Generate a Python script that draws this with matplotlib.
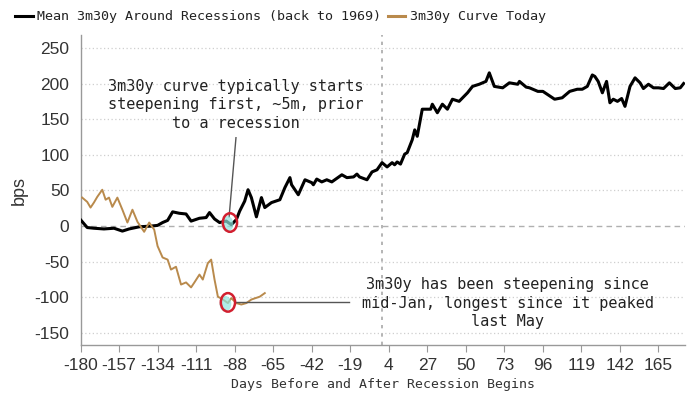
import matplotlib
matplotlib.use("Agg")
import matplotlib.pyplot as plt
from matplotlib.lines import Line2D
from matplotlib.patches import Ellipse
from matplotlib.ticker import FixedLocator, FuncFormatter

# Mean 3m30y around recessions (days, bps)
mean_days = [-180, -176, -172, -166, -160, -155, -151, -145, -138, -134, -131, -128,
             -125, -121, -117, -114, -109, -105, -103, -100, -97, -93, -90, -87,
             -85, -82, -80, -78, -75, -72, -70, -66, -61, -58, -55, -54, -50,
             -46, -42, -41, -39, -36, -33, -30, -24, -21, -17, -15, -13.5, -9,
             -6, -3, 0, 3, 6, 7.5, 9, 11, 13.5, 15, 18, 19.5, 21, 22.5, 24,
             29, 30, 33, 36, 39, 42, 46, 51, 54, 58, 62, 64, 67, 72, 76, 81,
             82, 86, 88, 93, 96, 103, 107.5, 112, 116.5, 119.5, 122.5, 125.5,
             127, 129, 131.5, 134, 136, 138, 140.5, 143, 145, 148, 151, 154,
             156, 159, 162, 165, 168, 171.5, 175, 178, 180]
mean_bps = [9, -2, -3, -4, -3, -7, -4, -1, 0, 1, 5, 8,
            20, 18, 17, 7, 11, 12, 19, 10, 5, 7, 2, 9,
            21, 35, 51, 40, 13, 40, 26, 33, 37, 54, 68, 58, 44,
            65, 61, 58, 66, 62, 65, 62, 72, 68, 69, 73, 69, 65,
            76, 79, 89, 83, 89, 86, 90, 87, 101, 103, 121, 135, 126, 145, 164,
            164, 171, 159, 171, 164, 178, 175, 187, 196, 199, 203, 215, 196, 194, 201, 199,
            203, 195, 194, 189, 189, 178, 180, 189, 192, 192, 196, 212,
            210, 203, 187, 203, 173, 178, 175, 179, 168, 196, 208, 201,
            193, 199, 194, 194, 193, 201, 193, 194, 200]

# 3m30y curve today
today_days = [-179, -176, -174, -172, -170, -167, -165, -163, -161, -158, -155, -152,
              -149, -146, -142, -139, -136, -134, -131, -128, -126, -123, -120, -117,
              -114, -112, -109, -107, -104, -102, -100, -98, -95, -92, -90, -87,
              -84, -81, -78, -73, -70]
today_bps = [40, 34, 26, 33, 41, 51, 37, 40, 27, 40, 23, 5,
             23, 6, -8, 5, -5, -28, -44, -47, -61, -57, -82, -79,
             -86, -79, -68, -75, -52, -47, -75, -99, -103, -108, -101, -108,
             -110, -108, -103, -99, -94]

x_ticks = list(range(-180, 181, 23))
y_ticks = [-150, -100, -50, 0, 50, 100, 150, 200, 250]

mono = ["DejaVu Sans Mono"]
sans = ["Liberation Sans", "DejaVu Sans"]
orange = "#b98a4c"

fig = plt.figure(figsize=(7, 3.94), dpi=100)
ax = fig.add_axes([0.115, 0.124, 0.864, 0.787])

for y in y_ticks:
    if y == 0:
        ax.axhline(y, color="#b0b0b0", lw=1.0, ls=(0, (4, 3)), zorder=1)
    else:
        ax.axhline(y, color="#cfcfcf", lw=0.9, ls=(0, (1, 2)), zorder=1)
ax.axvline(0, color="#a8a8a8", lw=1.2, ls=(0, (2, 3)), zorder=1)

ax.plot(mean_days, mean_bps, color="black", lw=2.2, zorder=3)
ax.plot(today_days, today_bps, color=orange, lw=1.4, zorder=3)

ax.set_xlim(-180, 181)
ax.set_ylim(-167, 268)

ax.xaxis.set_major_locator(FixedLocator(x_ticks))
ax.yaxis.set_major_locator(FixedLocator(y_ticks))
fmt = FuncFormatter(lambda v, p: "%d" % v)
ax.xaxis.set_major_formatter(fmt)
ax.yaxis.set_major_formatter(fmt)
for lab in ax.get_xticklabels() + ax.get_yticklabels():
    lab.set_family(sans)
    lab.set_fontsize(12.5)
    lab.set_color("#333333")
ax.tick_params(axis="x", length=5, color="#999999", pad=4)
ax.tick_params(axis="y", length=0, pad=8)

for s in ["top", "right"]:
    ax.spines[s].set_visible(False)
for s in ["left", "bottom"]:
    ax.spines[s].set_color("#999999")
    ax.spines[s].set_linewidth(1.0)

ax.set_ylabel("bps", family=sans, fontsize=13, color="#333333", labelpad=5)
ax.set_xlabel("Days Before and After Recession Begins", family=mono,
              fontsize=9.5, color="#333333", labelpad=4)

# annotations
ax.text(-87.5, 170, "3m30y curve typically starts\nsteepening first, ~5m, prior\nto a recession",
        family=mono, fontsize=11, color="#222222", ha="center", va="center",
        linespacing=1.3, zorder=4)
ax.plot([-87.2, -91.3], [124, 13], color="#555555", lw=1.0, zorder=4)

ax.text(75, -108, "3m30y has been steepening since\nmid-Jan, longest since it peaked\nlast May",
        family=mono, fontsize=11, color="#222222", ha="center", va="center",
        linespacing=1.3, zorder=4)
ax.plot([-87, -19.5], [-106, -106], color="#555555", lw=1.0, zorder=4)

# highlight circles
for cx, cy in [(-90.8, 5), (-92, -107)]:
    ax.add_patch(Ellipse((cx - 1.5, cy - 2), 7, 22, facecolor="#8fe3dd",
                         edgecolor="none", alpha=0.7, zorder=4))
    ax.add_patch(Ellipse((cx, cy), 8.5, 26, facecolor="none",
                         edgecolor="#d21f2f", lw=1.8, zorder=5))

# legend across the top
fig.add_artist(Line2D([0.021, 0.047], [0.959, 0.959], color="black", lw=2.2,
                      transform=fig.transFigure))
fig.text(0.053, 0.959, "Mean 3m30y Around Recessions (back to 1969)", family=mono,
         fontsize=9.6, color="#222222", va="center")
fig.add_artist(Line2D([0.554, 0.579], [0.959, 0.959], color=orange, lw=2.2,
                      transform=fig.transFigure))
fig.text(0.586, 0.959, "3m30y Curve Today", family=mono,
         fontsize=9.6, color="#222222", va="center")

fig.savefig("out.png", dpi=100)
